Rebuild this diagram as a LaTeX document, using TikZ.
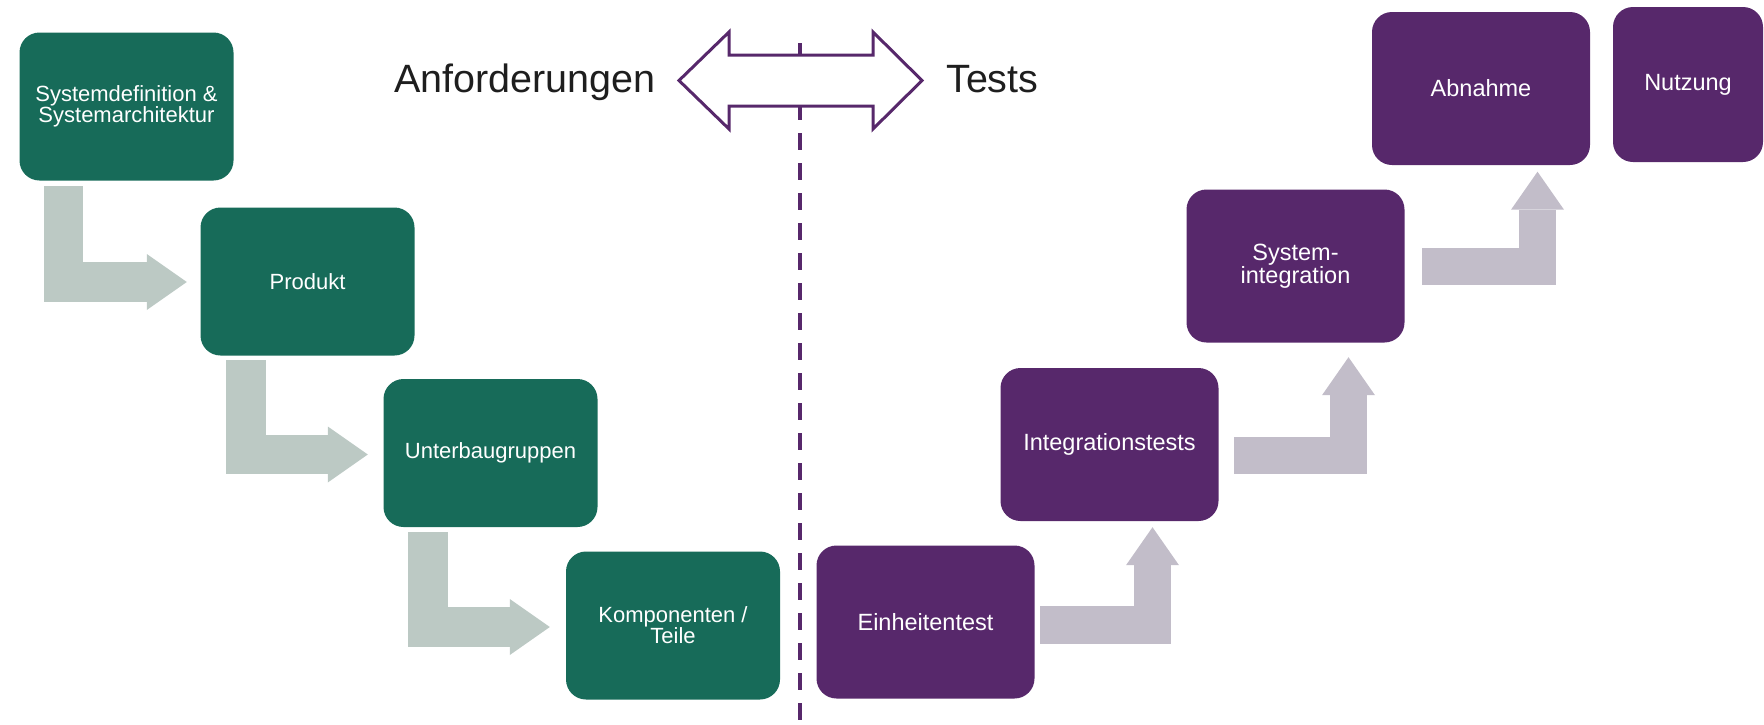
\documentclass[tikz,border=0pt]{standalone}
\usepackage{fontspec}
\setmainfont{Liberation Sans}
\usetikzlibrary{arrows.meta,calc}

\definecolor{vgreen}{HTML}{176B59}
\definecolor{vpurple}{HTML}{57286B}
\definecolor{reqgrey}{HTML}{BCC9C4}
\definecolor{testgrey}{HTML}{C2BDC9}
\definecolor{headgrey}{HTML}{1E1E1E}

\begin{document}
\begin{tikzpicture}[x=1pt, y=-1pt,
  box/.style={rounded corners=20pt, inner sep=0pt, text=white, align=center},
  reqbox/.style={box, fill=vgreen, minimum width=214pt, minimum height=148pt,
    font=\fontsize{22}{21}\selectfont},
  testbox/.style={box, fill=vpurple, minimum width=218pt, minimum height=153pt,
    font=\fontsize{23.5}{23}\selectfont},
  heading/.style={inner sep=0pt, text=headgrey, font=\fontsize{39.5}{41}\selectfont},
  downstep/.style={draw=reqgrey, line width=39.5pt, line cap=butt, line join=miter,
    -{Triangle[length=40pt, width=56pt, line width=0pt]}},
  upstep/.style={draw=testgrey, line width=37.5pt, line cap=butt, line join=miter,
    -{Triangle[length=38pt, width=53pt, line width=0pt]}},
  divider/.style={draw=vpurple, line width=4pt, dash pattern=on 17pt off 13pt},
  span/.style={draw=vpurple, fill=white, line width=3pt, line join=miter},
]
\useasboundingbox (0,0) rectangle (1764,724);

% dashed divider between requirements and tests
\coordinate (dtop) at (800,43);
\coordinate (dbot) at (800,724);
\draw[divider] (dtop) -- (dbot);

% double-headed outline arrow
\coordinate (mid) at (800.5,80.5);
\begin{scope}[shift={(mid)}]
  \draw[span] (-121.5,0) -- (-71.5,-48.5) -- (-71.5,-25.5) -- (72.5,-25.5)
    -- (72.5,-48.5) -- (121.5,0) -- (72.5,48.5) -- (72.5,25.5)
    -- (-71.5,25.5) -- (-71.5,48.5) -- cycle;
\end{scope}
\node[heading, anchor=base east] (req) at (656,92) {Anforderungen};
\node[heading, anchor=base west] (tst) at (946,92) {Tests};

% requirement side
\node[reqbox] (s1) at (126.5,106.5) {Systemdefinition \&\\Systemarchitektur};
\node[reqbox] (s2) at (307.5,281.5) {Produkt};
\node[reqbox] (s3) at (490.5,453) {Unterbaugruppen};
\node[reqbox] (s4) at (673,625.5) {Komponenten /\\Teile};

% test side
\node[testbox] (t1) at (925.5,622) {Einheitentest};
\node[testbox] (t2) at (1109.5,444.5) {Integrationstests};
\node[testbox] (t3) at (1295.5,266) {System-\\integration};
\node[testbox] (t4) at (1481,88.5) {Abnahme};
\node[box, fill=vpurple, minimum width=150pt, minimum height=155pt,
  font=\fontsize{23.5}{23}\selectfont] (t5) at (1688,84.5) {Nutzung};

% steps down the left branch
\draw[downstep] ($(s1.south west)+(44,5.5)$) |- ($(s2.west)+(-13.5,0.5)$);
\draw[downstep] ($(s2.south west)+(45.5,4.5)$) |- ($(s3.west)+(-15.5,1.5)$);
\draw[downstep] ($(s3.south west)+(44.5,5)$) |- ($(s4.west)+(-16,1.5)$);

% steps up the right branch
\draw[upstep] ($(t1.east)+(5.5,3)$) -| ($(t2.south)+(43,6)$);
\draw[upstep] ($(t2.east)+(15.5,11)$) -| ($(t3.south)+(53,14.5)$);
\draw[upstep] ($(t3.east)+(17.5,0.5)$) -| ($(t4.south)+(56.5,6.5)$);
\end{tikzpicture}
\end{document}
